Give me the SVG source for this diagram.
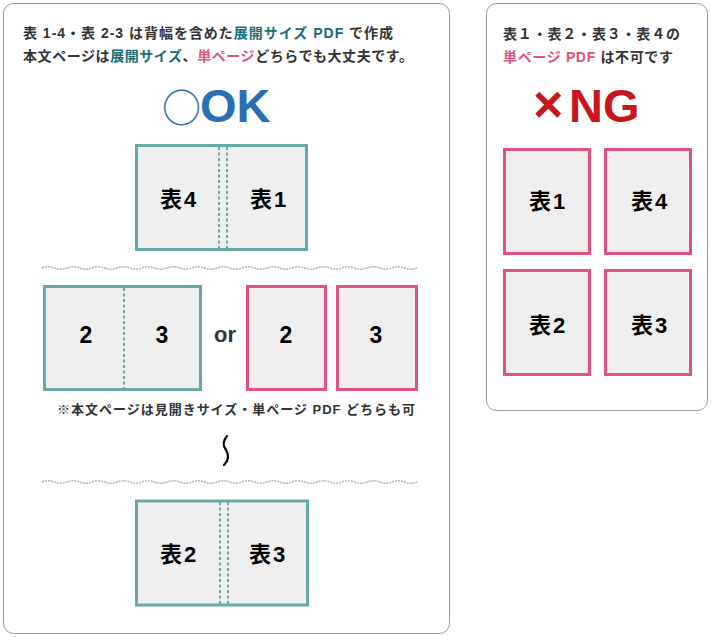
<svg xmlns="http://www.w3.org/2000/svg" width="711" height="637" viewBox="0 0 711 637">
<style>
text{font-family:"Liberation Sans","Noto Sans CJK JP",sans-serif;font-weight:bold}
.hd{font-size:14px;fill:#333}
.tl{fill:#1a6e75}
.pk{fill:#e4517a}
.lbl{font-size:22px;fill:#000;text-anchor:middle;letter-spacing:2px}
.num{font-size:23px;fill:#000;text-anchor:middle}
.teal{fill:#efefef;stroke:#67a9a9;stroke-width:3}
.pink{fill:#efefef;stroke:#e4517a;stroke-width:3}
.fold{stroke:#67a9a9;stroke-width:2;stroke-dasharray:3 2.5;fill:none}
.wave{stroke:#b5b5b5;stroke-width:1.5;stroke-dasharray:2 1;fill:none}
.panel{fill:#fff;stroke:#999;stroke-width:1}
.cjk{font-family:"Noto Sans CJK JP",sans-serif;font-weight:normal}
</style>
<rect class="panel" x="3.5" y="3.5" width="446" height="630" rx="10"/>
<rect class="panel" x="486.5" y="3.5" width="221" height="407" rx="10"/>

<g id="left-header">
<text class="hd" x="23" y="38" textLength="370" lengthAdjust="spacing">表 1-4・表 2-3 は背幅を含めた<tspan class="tl">展開サイズ PDF</tspan> で作成</text>
<text class="hd" x="23" y="61" textLength="390" lengthAdjust="spacing">本文ページは<tspan class="tl">展開サイズ</tspan>、<tspan class="pk">単ページ</tspan>どちらでも大丈夫です。</text>
<text x="162" y="122" font-size="47" fill="#2a6fb5"><tspan class="cjk" font-size="39">○</tspan><tspan x="200">OK</tspan></text>
</g>

<g id="node-cover-spread">
<rect class="teal" x="136.5" y="145.5" width="170" height="104"/>
<line class="fold" x1="219" y1="147" x2="219" y2="248"/>
<line class="fold" x1="227" y1="147" x2="227" y2="248"/>
<text class="lbl" x="179" y="207">表4</text>
<text class="lbl" x="269" y="207">表1</text>
</g>

<g id="connectors">
<path class="wave" d="M42,268 q6.25,-2.5 12.5,0 t12.5,0 t12.5,0 t12.5,0 t12.5,0 t12.5,0 t12.5,0 t12.5,0 t12.5,0 t12.5,0 t12.5,0 t12.5,0 t12.5,0 t12.5,0 t12.5,0 t12.5,0 t12.5,0 t12.5,0 t12.5,0 t12.5,0 t12.5,0 t12.5,0 t12.5,0 t12.5,0 t12.5,0 t12.5,0 t12.5,0 t12.5,0 t12.5,0 t12.5,0"/>
<path class="wave" d="M42,482 q6.25,-2.5 12.5,0 t12.5,0 t12.5,0 t12.5,0 t12.5,0 t12.5,0 t12.5,0 t12.5,0 t12.5,0 t12.5,0 t12.5,0 t12.5,0 t12.5,0 t12.5,0 t12.5,0 t12.5,0 t12.5,0 t12.5,0 t12.5,0 t12.5,0 t12.5,0 t12.5,0 t12.5,0 t12.5,0 t12.5,0 t12.5,0 t12.5,0 t12.5,0 t12.5,0 t12.5,0"/>
<path d="M227,436 C222,442 223,446 226,450 C229,455 229,460 224,465" stroke="#000" stroke-width="2.2" fill="none" stroke-linecap="round"/>
</g>

<g id="node-body-spread">
<rect class="teal" x="44.5" y="286.5" width="156" height="103"/>
<line class="fold" x1="124" y1="288" x2="124" y2="388"/>
<text class="num" x="86" y="343">2</text>
<text class="num" x="162" y="343">3</text>
</g>
<text x="225" y="342" font-size="22" fill="#333" text-anchor="middle">or</text>
<g id="node-body-single-2">
<rect class="pink" x="247.5" y="286.5" width="78" height="103"/>
<text class="num" x="286" y="343">2</text>
</g>
<g id="node-body-single-3">
<rect class="pink" x="337.5" y="286.5" width="79" height="103"/>
<text class="num" x="376" y="343">3</text>
</g>
<text x="57" y="414" font-size="13" fill="#333" textLength="358" lengthAdjust="spacing">※本文ページは見開きサイズ・単ページ PDF どちらも可</text>

<g id="node-back-spread">
<rect class="teal" x="136.5" y="501" width="171" height="104"/>
<line class="fold" x1="220" y1="502" x2="220" y2="604"/>
<line class="fold" x1="228" y1="502" x2="228" y2="604"/>
<text class="lbl" x="179" y="562">表2</text>
<text class="lbl" x="268" y="562">表3</text>
</g>

<g id="right-header">
<text class="hd" x="503" y="39" textLength="177" lengthAdjust="spacing">表１・表２・表３・表４の</text>
<text class="hd" x="503" y="62" textLength="170" lengthAdjust="spacing"><tspan class="pk">単ページ PDF</tspan> は不可です</text>
<text x="533" y="122" font-size="47" fill="#c8161e"><tspan font-size="52">×</tspan><tspan x="569">NG</tspan></text>
</g>

<g id="ng-1"><rect class="pink" x="504.5" y="149.5" width="85" height="104"/><text class="lbl" x="548" y="209">表1</text></g>
<g id="ng-4"><rect class="pink" x="605.5" y="149.5" width="85" height="104"/><text class="lbl" x="650" y="209">表4</text></g>
<g id="ng-2"><rect class="pink" x="504.5" y="270.5" width="85" height="104"/><text class="lbl" x="548" y="333">表2</text></g>
<g id="ng-3"><rect class="pink" x="605.5" y="270.5" width="85" height="104"/><text class="lbl" x="650" y="333">表3</text></g>
</svg>
